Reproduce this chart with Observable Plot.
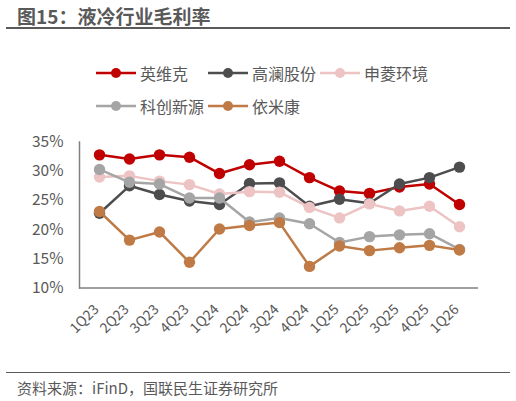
<!DOCTYPE html>
<html><head><meta charset="utf-8">
<script src="https://cdn.jsdelivr.net/npm/d3@7"></script>
<script src="https://cdn.jsdelivr.net/npm/@observablehq/plot@0.6"></script>
<style>
body{margin:0;background:#fff;font-family:"Noto Sans CJK SC","Noto Sans",sans-serif;color:#595959;}
#wrap{position:relative;width:516px;height:401px;overflow:hidden;}
#chart{position:absolute;left:0;top:0;}
#title{position:absolute;left:17px;top:3px;font-size:19px;font-weight:bold;color:#595959;line-height:26px;white-space:nowrap;}
.hr{position:absolute;left:6px;width:504px;background:#595959;}
#cap{position:absolute;left:17px;top:378px;font-size:15px;line-height:20px;color:#595959;white-space:nowrap;}
.lg{position:absolute;display:flex;align-items:center;font-size:16px;line-height:20px;white-space:nowrap;color:#595959;}
.lg svg{margin-right:4px;}
</style></head>
<body>
<div id="wrap">
  <div id="title">图15：液冷行业毛利率</div>
  <div class="hr" style="top:27px;height:2px;"></div>
  <div id="chart"></div>
  <div class="hr" style="top:371.5px;height:1.5px;"></div>
  <div id="cap">资料来源：iFinD，国联民生证券研究所</div>
</div>
<script>
const quarters = ["1Q23","2Q23","3Q23","4Q23","1Q24","2Q24","3Q24","4Q24","1Q25","2Q25","3Q25","4Q25","1Q26"];
const seriesNames = ["英维克","高澜股份","申菱环境","科创新源","依米康"];
const seriesColors = ["#C00000","#4D4D4F","#EDC3C3","#A5A5A5","#BF7A45"];
const yingweike  = [32.8,32.1,32.8,32.4,29.6,31.1,31.7,28.9,26.6,26.2,27.3,27.8,24.3];
const gaolan     = [22.8,27.5,26.0,24.9,24.3,27.9,28.0,24.0,25.2,24.5,27.8,28.9,30.7];
const shenling   = [29.0,29.2,28.3,27.7,26.1,26.5,26.4,23.8,22.0,24.4,23.2,24.0,20.5];
const kechuang   = [30.3,28.1,27.8,25.4,25.4,21.3,22.0,21.0,17.8,18.8,19.1,19.3,16.6];
const yimikang   = [23.1,18.2,19.6,14.4,20.1,20.7,21.2,13.7,17.2,16.4,16.9,17.3,16.5];
const yTicks = [10,15,20,25,30,35];

const allSeries = [yingweike, gaolan, shenling, kechuang, yimikang];
const rows = [];
allSeries.forEach((vals, si) => vals.forEach((v, i) => rows.push({q: quarters[i], v, s: seriesNames[si]})));

const marks = [
  Plot.ruleY([10], {stroke:"#808080", strokeWidth:1.5}),
  Plot.frame({anchor:"left", stroke:"#808080", strokeWidth:1.5}),
  Plot.axisY({ticks: yTicks, tickSize:0, tickPadding:16, tickFormat: d => d + "%", fontSize:15.5, label:null}),
  Plot.axisX({tickRotate:-45, tickSize:0, tickPadding:19, dx:-3, fontSize:14, label:null})
];
seriesNames.forEach((name, si) => {
  const d = rows.filter(r => r.s === name);
  marks.push(Plot.line(d, {x:"q", y:"v", stroke: seriesColors[si], strokeWidth:2.5}));
  marks.push(Plot.dot(d, {x:"q", y:"v", r:5.7, fill: seriesColors[si], stroke:"none"}));
});

const chart = Plot.plot({
  width:516, height:401,
  marginTop:141.5, marginBottom:113.5, marginLeft:79, marginRight:38,
  x:{type:"point", domain: quarters, padding:0.5},
  y:{domain:[10,35]},
  style:{fontFamily:'"Noto Sans CJK SC","Noto Sans",sans-serif', color:"#595959", background:"transparent", overflow:"visible"},
  marks
});
document.getElementById("chart").appendChild(chart);

// legend
const wrap = document.getElementById("wrap");
const legPos = [[96,62.5],[208,62.5],[320,62.5],[96,96],[208,96]];
seriesNames.forEach((name, si) => {
  const div = document.createElement("div");
  div.className = "lg";
  div.style.left = legPos[si][0] + "px";
  div.style.top = legPos[si][1] + "px";
  div.innerHTML = `<svg width="40" height="20"><line x1="0" x2="40" y1="10" y2="10" stroke="${seriesColors[si]}" stroke-width="2.5"/><circle cx="20" cy="10" r="5" fill="${seriesColors[si]}"/></svg><span>${name}</span>`;
  wrap.appendChild(div);
});
</script>
</body></html>
